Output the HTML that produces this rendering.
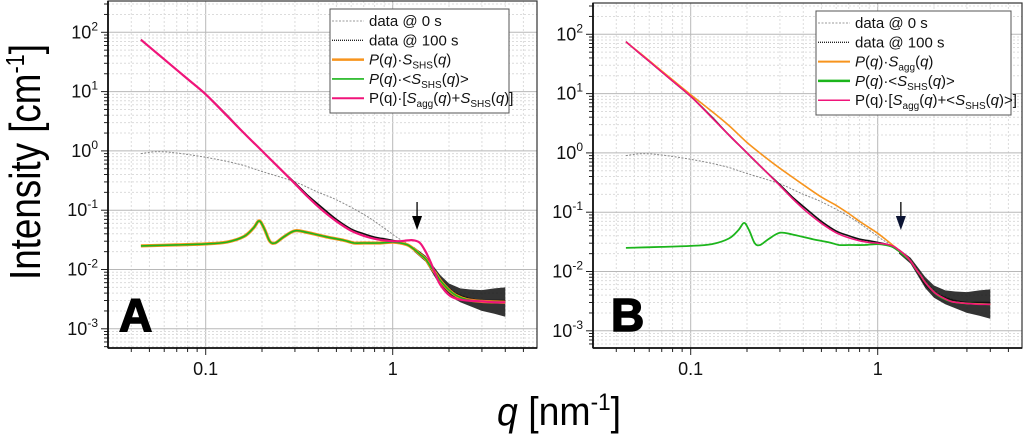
<!DOCTYPE html>
<html><head><meta charset="utf-8"><style>
html,body{margin:0;padding:0;background:#fff;}
svg{display:block;font-family:"Liberation Sans",Arial,sans-serif;}
</style></head><body>
<svg id="fig" width="1024" height="436" viewBox="0 0 1024 436" xmlns="http://www.w3.org/2000/svg">
<text transform="translate(40,162) rotate(-90)" text-anchor="middle" font-size="44" textLength="236" lengthAdjust="spacingAndGlyphs">Intensity [cm<tspan dy="-16" font-size="26">-1</tspan><tspan dy="16">]</tspan></text>
<text x="497" y="425" font-size="40" textLength="124" lengthAdjust="spacingAndGlyphs"><tspan font-style="italic">q</tspan> [nm<tspan dy="-15" font-size="24">-1</tspan><tspan dy="15">]</tspan></text>
</svg>
<script>
// ---- data ----
const qFit = [0.045,0.06,0.08,0.1,0.13,0.16,0.2,0.25,0.3,0.35,0.42,0.5,0.6,0.7,0.8,0.9,1.0,1.1,1.2,1.3,1.4,1.5,1.6,1.7,1.8,2.0,2.2,2.5,3.0,3.5,4.0];
const pinkA = [75,35,16.3,9,3.9,2.0,1.0,0.5,0.28,0.17,0.1,0.065,0.045,0.037,0.033,0.031,0.03,0.03,0.031,0.031,0.028,0.02,0.013,0.008,0.0055,0.0037,0.0032,0.003,0.0029,0.0028,0.0028];
const pinkB = [75,35,16.3,9,3.9,2.0,1.0,0.5,0.28,0.17,0.1,0.065,0.045,0.037,0.033,0.031,0.03,0.029,0.027,0.023,0.019,0.015,0.011,0.0085,0.0065,0.0045,0.0037,0.0031,0.0029,0.0028,0.0028];
const qGreen = [0.045,0.07,0.1,0.13,0.16,0.18,0.193,0.205,0.22,0.235,0.26,0.3,0.35,0.45,0.55,0.62,0.7,0.85,1.0,1.1,1.2,1.3,1.4,1.5,1.6,1.7,1.8,2.0,2.2,2.5,3.0,4.0];
const greenA = [0.025,0.026,0.027,0.029,0.036,0.05,0.066,0.05,0.03,0.028,0.035,0.045,0.042,0.035,0.031,0.028,0.028,0.028,0.029,0.028,0.026,0.022,0.018,0.015,0.011,0.0085,0.0065,0.0045,0.0036,0.0031,0.0029,0.0028];
const qOrangeB = [0.045,0.06,0.08,0.1,0.13,0.16,0.2,0.25,0.3,0.4,0.5,0.6,0.7,0.8,0.9,1.0,1.1,1.2,1.3,1.4,1.5,1.6,1.7,1.8,2.0,2.2,2.5,3.0,4.0];
const orangeB = [75,36,17,9.6,5,2.9,1.5,0.85,0.55,0.29,0.18,0.13,0.095,0.07,0.055,0.044,0.035,0.028,0.023,0.019,0.015,0.011,0.0085,0.0065,0.0045,0.0037,0.0031,0.0029,0.0028];
const q0 = [0.045,0.055,0.07,0.1,0.15,0.2,0.3,0.4,0.5,0.7,0.9,1.05,1.2,1.5,1.8,2.2,3,4];
const data0 = [0.9,0.97,0.92,0.78,0.6,0.45,0.3,0.2,0.15,0.085,0.05,0.035,0.027,0.016,0.007,0.004,0.003,0.003];
const q100 = [0.045,0.06,0.08,0.1,0.13,0.16,0.2,0.25,0.3,0.35,0.42,0.5,0.6,0.7,0.8,0.9,1.0,1.1,1.2,1.3,1.4,1.5,1.6,1.7,1.8,2.0,2.2,2.5,3.0,3.5,4.0];
const data100 = [75,35,16.3,9,4.0,2.0,1.0,0.5,0.29,0.18,0.11,0.07,0.048,0.04,0.035,0.033,0.031,0.029,0.026,0.022,0.019,0.015,0.011,0.008,0.006,0.0045,0.0038,0.0033,0.003,0.003,0.003];
const qNoise = [1.3,1.5,1.8,2.0,2.3,2.6,3.0,3.5,4.0];
const noiseHi = [0.024,0.017,0.008,0.0058,0.0048,0.0046,0.0045,0.0048,0.005];
const noiseLo = [0.02,0.0135,0.0052,0.0036,0.0028,0.0024,0.002,0.0018,0.0016];
const yTicks = [2,1,0,-1,-2,-3];
const xTickLabels = ["0.1","1"];
const xTickVals = [0.1,1];

const NS = "http://www.w3.org/2000/svg";
const svg = document.getElementById('fig');
function mk(tag, attrs, parent){const e=document.createElementNS(NS,tag);for(const k in attrs)e.setAttribute(k,attrs[k]);(parent||svg).appendChild(e);return e;}

function smooth(pts){
  let d='M'+pts[0][0].toFixed(1)+','+pts[0][1].toFixed(1);
  for(let i=0;i<pts.length-1;i++){
    const p0=pts[Math.max(0,i-1)],p1=pts[i],p2=pts[i+1],p3=pts[Math.min(pts.length-1,i+2)];
    const c1=[p1[0]+(p2[0]-p0[0])/6,p1[1]+(p2[1]-p0[1])/6];
    const c2=[p2[0]-(p3[0]-p1[0])/6,p2[1]-(p3[1]-p1[1])/6];
    d+=' C'+c1[0].toFixed(1)+','+c1[1].toFixed(1)+' '+c2[0].toFixed(1)+','+c2[1].toFixed(1)+' '+p2[0].toFixed(1)+','+p2[1].toFixed(1);
  }
  return d;
}

function panel(cfg){
  const g = mk('g',{});
  
  
  const X = q => cfg.x1 + 187*Math.log10(q);
  const Y = v => cfg.y2 + (2-Math.log10(v))*59.3;
  const L=cfg.left,R=cfg.right,T=cfg.top,B=cfg.bottom;
  const clipId='clip'+cfg.id;
  const cp=mk('clipPath',{id:clipId},g); mk('rect',{x:L,y:T,width:R-L,height:B-T},cp);
  const grid = mk('g',{},g);
  
  
  for(let d=-2; d<=0; d++) for(let m=1;m<=9;m++){
    const x=X(m*Math.pow(10,d)); if(x<L||x>R) continue;
    mk('line',{x1:x,x2:x,y1:T,y2:B,stroke:m==1?'#b8b8b8':'#dcdcdc','stroke-width':1,'stroke-dasharray':m==1?'':'2,2'},grid);
    mk('line',{x1:x,x2:x,y1:B,y2:B+(m==1?7:4),stroke:'#222','stroke-width':1},g);
  }
  for(let d=-4; d<=2; d++) for(let m=1;m<=9;m++){
    const v=m*Math.pow(10,d); const y=Y(v); if(y<T||y>B) continue;
    mk('line',{x1:L,x2:R,y1:y,y2:y,stroke:m==1?'#b8b8b8':'#dcdcdc','stroke-width':1,'stroke-dasharray':m==1?'':'2,2'},grid);
    mk('line',{x1:L-(m==1?7:4),x2:L,y1:y,y2:y,stroke:'#222','stroke-width':1},g);
  }
  yTicks.forEach(p=>{
    const t=mk('text',{x:L-10,y:Y(Math.pow(10,p))+6,'text-anchor':'end','font-size':18,fill:'#111'},g);
    
    
    t.innerHTML='10<tspan dy="-8" font-size="12">'+p+'</tspan>';
  });
  xTickVals.forEach((v,i)=>{
    const t=mk('text',{x:X(v),y:375,'text-anchor':'middle','font-size':18,fill:'#111'},g);
    
    
    t.textContent=xTickLabels[i];
  });
  const plot=mk('g',{'clip-path':'url(#'+clipId+')'},g);
  const path=(qs,vs)=>smooth(qs.map((q,i)=>[X(q),Y(vs[i])]));
  let e;
  e=mk('path',{d:path(q0,data0),fill:'none',stroke:'#888','stroke-width':1,'stroke-dasharray':'2,1.5'},plot);
  
  
  const band = 'M'+qNoise.map((q,i)=>X(q).toFixed(1)+','+Y(noiseHi[i]).toFixed(1)).join(' L')+' '+qNoise.slice().reverse().map((q,i)=>'L'+X(q).toFixed(1)+','+Y(noiseLo[qNoise.length-1-i]).toFixed(1)).join(' ')+'Z';
  e=mk('path',{d:band,fill:'#111',opacity:0.85},plot);
  
  
  e=mk('path',{d:path(q100,data100),fill:'none',stroke:'#111','stroke-width':1.6},plot);
  
  
  cfg.series.forEach(s=>{
    const p=mk('path',{d:path(s.q,s.v),fill:'none',stroke:s.c,'stroke-width':s.w},plot);
    
    
  });
  e=mk('rect',{x:L,y:T,width:R-L,height:B-T,fill:'none',stroke:'#333','stroke-width':1.2},g);
  
  
  mk('line',{x1:L,x2:R,y1:B,y2:B,stroke:'#111','stroke-width':1.8},g);
  mk('line',{x1:L,x2:L,y1:T,y2:B,stroke:'#111','stroke-width':1.8},g);
  const ax=X(cfg.arrowQ);
  const ar=mk('g',{},g);
  
  
  mk('line',{x1:ax,x2:ax,y1:202,y2:218,stroke:'#000','stroke-width':1.3},ar);
  mk('path',{d:`M${ax-5},216 L${ax+5},216 L${ax},230 Z`,fill:cfg.arrowFill},ar);
  e=mk('text',{x:cfg.letterX,y:331,'font-size':46,'font-weight':'bold',fill:'#000',stroke:'#000','stroke-width':1.5},g);
  
  
  e.textContent=cfg.letter;
  const lg=mk('g',{},g);
  
  
  mk('rect',{x:cfg.lgx,y:cfg.lgy,width:cfg.lgw,height:104,fill:'#fff',stroke:'#555','stroke-width':1},lg);
  cfg.legend.forEach((it,i)=>{
    const y=cfg.lgy+12+i*19.3;
    const row=mk('g',{},lg);
    
    
    mk('line',{x1:cfg.lgx+2,x2:cfg.lgx+34,y1:y,y2:y,stroke:it.c,'stroke-width':it.w,'stroke-dasharray':it.dash||''},row);
    const t=mk('text',{x:cfg.lgx+39,y:y+5,'font-size':15,fill:'#111'},row);
    t.innerHTML=it.t;
  });
}
const sub=s=>'<tspan dy="4" font-size="10">'+s+'</tspan><tspan dy="-4">';
panel({id:'A',name:'panel-a',left:108,right:537,top:1,bottom:348,x1:392.7,y2:32.3,arrowQ:1.35,arrowFill:'#000',letter:'A',letterX:119,
  lgx:330,lgy:9,lgw:179,
  series:[
    {name:'series-orange-p-sshs',q:qGreen,v:greenA,c:'#f7941d',w:3.2},
    {name:'series-green-p-mean-sshs',q:qGreen,v:greenA,c:'#1cb51c',w:1.6},
    {name:'series-pink-p-sagg-sshs',q:qFit,v:pinkA,c:'#f0147a',w:2.2}],
  legend:[
    {c:'#999',w:1,dash:'2,1.5',t:'data @ 0 s'},
    {c:'#222',w:1.3,dash:'1,1',t:'data @ 100 s'},
    {c:'#f7941d',w:2.5,t:'<tspan font-style="italic">P</tspan>(<tspan font-style="italic">q</tspan>)·<tspan font-style="italic">S</tspan>'+sub('SHS')+'(<tspan font-style="italic">q</tspan>)</tspan>'},
    {c:'#1cb51c',w:1.6,t:'<tspan font-style="italic">P</tspan>(<tspan font-style="italic">q</tspan>)·&lt;<tspan font-style="italic">S</tspan>'+sub('SHS')+'(<tspan font-style="italic">q</tspan>)&gt;</tspan>'},
    {c:'#f0147a',w:2,t:'P(q)·[<tspan font-style="italic">S</tspan>'+sub('agg')+'(<tspan font-style="italic">q</tspan>)+<tspan font-style="italic">S</tspan>'+sub('SHS')+'(<tspan font-style="italic">q</tspan>)]</tspan></tspan>'}]
});
panel({id:'B',name:'panel-b',left:593,right:1022,top:3,bottom:348,x1:877.7,y2:34.3,arrowQ:1.33,arrowFill:'#0b1433',letter:'B',letterX:611,
  lgx:816,lgy:11,lgw:195,
  series:[
    {name:'series-green-p-mean-sshs',q:qGreen,v:greenA,c:'#1cb51c',w:1.8},
    {name:'series-orange-p-sagg',q:qOrangeB,v:orangeB,c:'#f7941d',w:1.6},
    {name:'series-pink-p-sagg-mean-sshs',q:qFit,v:pinkB,c:'#f0147a',w:1.6}],
  legend:[
    {c:'#999',w:1,dash:'2,1.5',t:'data @ 0 s'},
    {c:'#222',w:1.3,dash:'1,1',t:'data @ 100 s'},
    {c:'#f7941d',w:2,t:'<tspan font-style="italic">P</tspan>(<tspan font-style="italic">q</tspan>)·<tspan font-style="italic">S</tspan>'+sub('agg')+'(<tspan font-style="italic">q</tspan>)</tspan>'},
    {c:'#1cb51c',w:2.5,t:'<tspan font-style="italic">P</tspan>(<tspan font-style="italic">q</tspan>)·&lt;<tspan font-style="italic">S</tspan>'+sub('SHS')+'(<tspan font-style="italic">q</tspan>)&gt;</tspan>'},
    {c:'#f0147a',w:1.5,t:'P(q)·[<tspan font-style="italic">S</tspan>'+sub('agg')+'(<tspan font-style="italic">q</tspan>)+&lt;<tspan font-style="italic">S</tspan>'+sub('SHS')+'(<tspan font-style="italic">q</tspan>)&gt;]</tspan></tspan>'}]
});
</script>
</body></html>
